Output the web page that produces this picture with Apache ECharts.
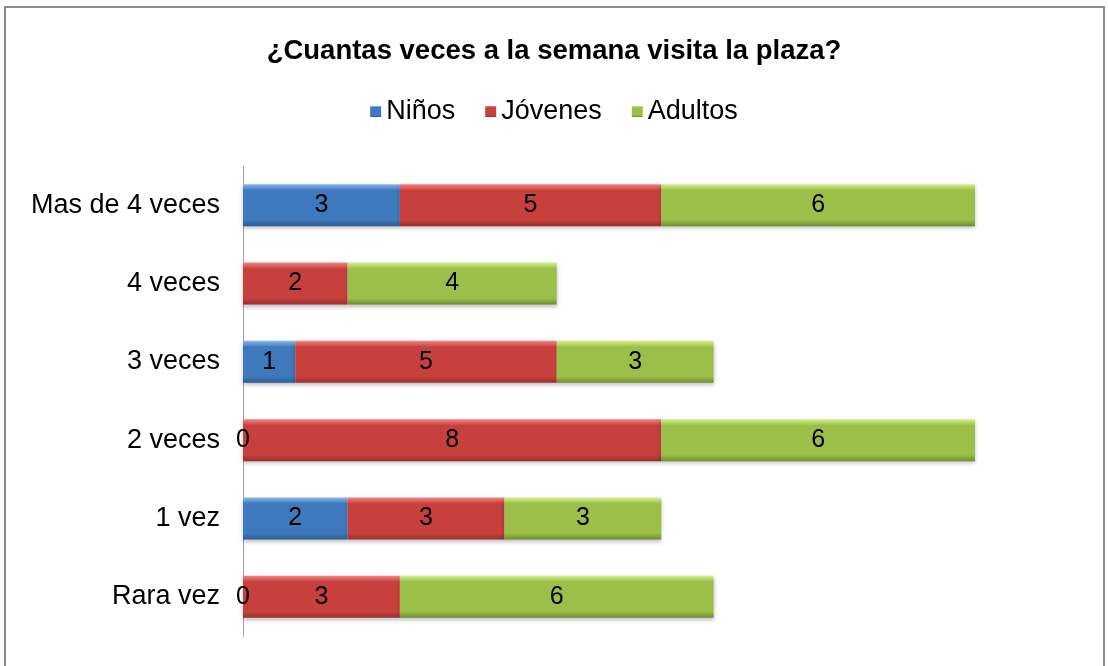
<!DOCTYPE html>
<html>
<head>
<meta charset="utf-8">
<script src="https://cdn.jsdelivr.net/npm/echarts@6/dist/echarts.min.js"></script>
<style>
  html, body { margin: 0; padding: 0; background: #fff; }
  #chart { width: 1108px; height: 666px; }
</style>
</head>
<body>
<div id="chart"></div>
<script>
var categories = ['Rara vez', '1 vez', '2 veces', '3 veces', '4 veces', 'Mas de 4 veces'];
var ninos = [0, 2, 0, 1, null, 3];
var jovenes = [3, 3, 8, 5, 2, 5];
var adultos = [6, 3, 6, 3, 4, 6];

var chart = echarts.init(document.getElementById('chart'));
var font = 'Liberation Sans, Arial, sans-serif';

function bevel(top, mid, bottom) {
  return new echarts.graphic.LinearGradient(0, 0, 0, 1, [
    { offset: 0, color: top },
    { offset: 0.15, color: mid },
    { offset: 0.85, color: mid },
    { offset: 1, color: bottom }
  ]);
}

function mkSeries(name, data, colors) {
  return {
    name: name,
    type: 'bar',
    stack: 'total',
    barWidth: 42,
    data: data,
    itemStyle: {
      color: bevel(colors[0], colors[1], colors[2]),
      shadowColor: 'rgba(0,0,0,0.25)',
      shadowBlur: 4,
      shadowOffsetY: 2
    },
    label: {
      show: true,
      position: 'inside',
      color: '#000',
      fontSize: 25,
      fontFamily: font
    }
  };
}

chart.setOption({
  animation: false,
  backgroundColor: '#fff',
  graphic: [{
    type: 'rect',
    shape: { x: 5, y: 7, width: 1099, height: 680 },
    style: { fill: 'none', stroke: '#8c8c8c', lineWidth: 2 }
  }],
  title: {
    text: '¿Cuantas veces a la semana visita la plaza?',
    left: 'center',
    top: 32,
    textStyle: {
      fontSize: 27.5,
      fontWeight: 'bold',
      color: '#000',
      fontFamily: font
    }
  },
  legend: {
    top: 93,
    left: 'center',
    itemWidth: 11,
    itemHeight: 11,
    itemGap: 30,
    icon: 'rect',
    textStyle: {
      fontSize: 27,
      color: '#000',
      fontFamily: font,
      padding: [0, 0, 0, 0]
    },
    data: ['Niños', 'Jóvenes', 'Adultos']
  },
  grid: {
    left: 243,
    right: 133,
    top: 166,
    bottom: 30,
    containLabel: false
  },
  xAxis: {
    type: 'value',
    min: 0,
    max: 14,
    show: false
  },
  yAxis: {
    type: 'category',
    data: categories,
    axisLine: { show: true, lineStyle: { color: '#a0a0a0', width: 1 } },
    axisTick: { show: false },
    axisLabel: {
      fontSize: 27,
      color: '#000',
      margin: 23,
      fontFamily: font
    }
  },
  color: ['#4f81bd', '#c0504d', '#9bbb59'],
  series: [
    mkSeries('Niños', ninos, ['#8ab8ec', '#3f79bd', '#2c5a92']),
    mkSeries('Jóvenes', jovenes, ['#ef8683', '#c8403d', '#9a2f2c']),
    mkSeries('Adultos', adultos, ['#d6f08a', '#9bbf48', '#6f8c30'])
  ]
});
</script>
</body>
</html>
